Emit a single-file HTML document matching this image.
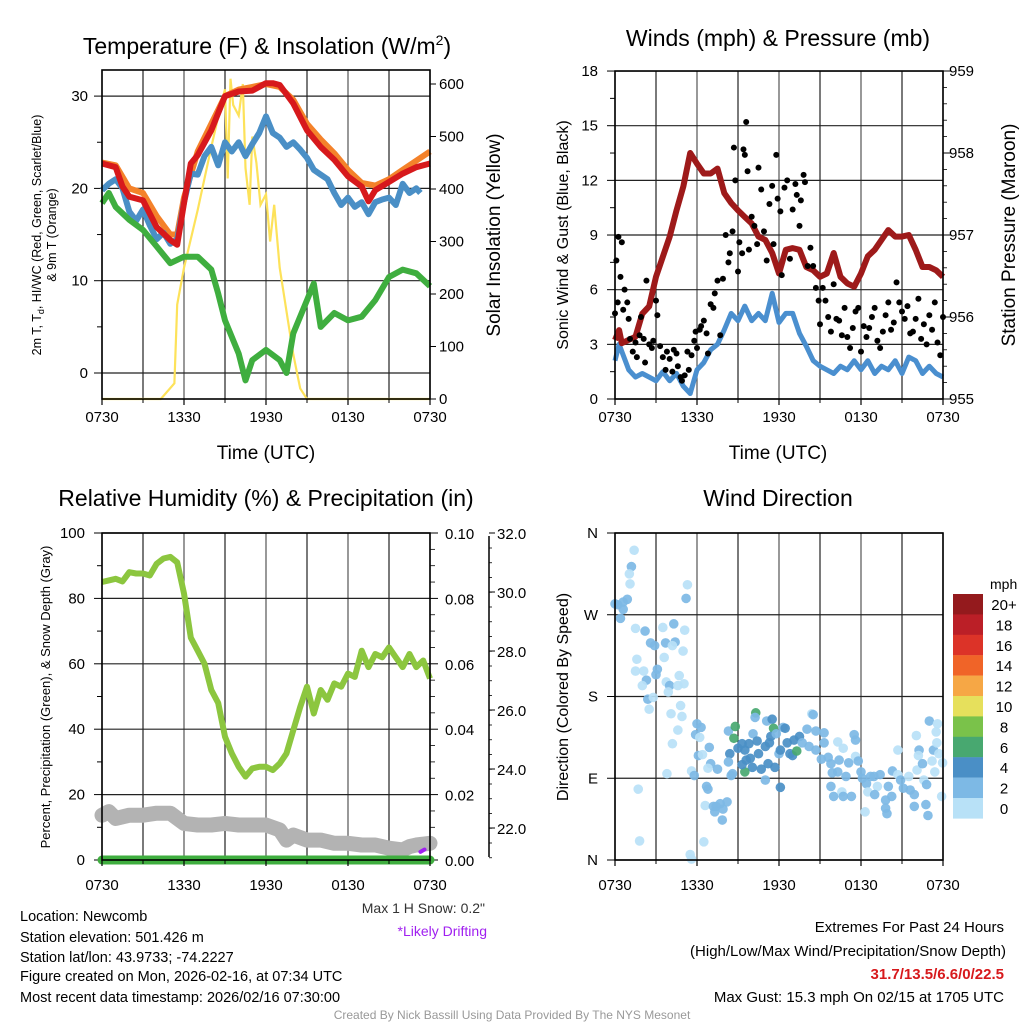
<!DOCTYPE html>
<html><head><meta charset="utf-8">
<style>
html,body{margin:0;padding:0;background:#fff;}
svg{display:block;font-family:"Liberation Sans",Arial,sans-serif;}
</style></head>
<body>
<svg id="c" width="1024" height="1024" viewBox="0 0 1024 1024" xmlns="http://www.w3.org/2000/svg">
<rect width="1024" height="1024" fill="#fff"/>
<text x="267" y="54" font-size="23" text-anchor="middle">Temperature (F) &amp; Insolation (W/m<tspan font-size="14" dy="-9">2</tspan><tspan dy="9">)</tspan></text>
<text x="778" y="46" font-size="23" text-anchor="middle">Winds (mph) &amp; Pressure (mb)</text>
<text x="266" y="506" font-size="23" text-anchor="middle">Relative Humidity (%) &amp; Precipitation (in)</text>
<text x="778" y="506" font-size="23" text-anchor="middle">Wind Direction</text>
<text transform="translate(41,235) rotate(-90)" font-size="12.5" text-anchor="middle">2m T, T<tspan font-size="9" dy="3">d</tspan><tspan dy="-3">, HI/WC (Red, Green, Scarlet/Blue)</tspan></text>
<text transform="translate(56,235) rotate(-90)" font-size="12.5" text-anchor="middle">&amp; 9m T (Orange)</text>
<text transform="translate(500,235) rotate(-90)" font-size="19" text-anchor="middle">Solar Insolation (Yellow)</text>
<text x="266" y="459" font-size="19" text-anchor="middle">Time (UTC)</text>
<text transform="translate(568,235) rotate(-90)" font-size="16" text-anchor="middle">Sonic Wind &amp; Gust (Blue, Black)</text>
<text transform="translate(1015,235) rotate(-90)" font-size="19" text-anchor="middle">Station Pressure (Maroon)</text>
<text x="778" y="459" font-size="19" text-anchor="middle">Time (UTC)</text>
<text transform="translate(50,697) rotate(-90)" font-size="13" text-anchor="middle">Percent, Precipitation (Green), &amp; Snow Depth (Gray)</text>
<text transform="translate(568,697) rotate(-90)" font-size="16" text-anchor="middle">Direction (Colored By Speed)</text>
<text x="485" y="913" font-size="14" fill="#333" text-anchor="end">Max 1 H Snow: 0.2"</text>
<text x="487" y="936" font-size="14" fill="#a020f0" text-anchor="end">*Likely Drifting</text>
<g font-size="14.5">
<text x="20" y="921">Location: Newcomb</text>
<text x="20" y="942">Station elevation: 501.426 m</text>
<text x="20" y="962">Station lat/lon: 43.9733; -74.2227</text>
<text x="20" y="981">Figure created on Mon, 2026-02-16, at 07:34 UTC</text>
<text x="20" y="1002">Most recent data timestamp: 2026/02/16 07:30:00</text>
</g>
<g font-size="15" text-anchor="end">
<text x="1004" y="932">Extremes For Past 24 Hours</text>
<text x="1006" y="956">(High/Low/Max Wind/Precipitation/Snow Depth)</text>
<text x="1004" y="979" fill="#d7191c" font-weight="bold">31.7/13.5/6.6/0/22.5</text>
<text x="1004" y="1002">Max Gust: 15.3 mph On 02/15 at 1705 UTC</text>
</g>
<text x="512" y="1019" font-size="12" fill="#999" text-anchor="middle">Created By Nick Bassill Using Data Provided By The NYS Mesonet</text>
<g id="layer"></g>
</svg>
<script>
const xTickLabels = ["0730","1330","1930","0130","0730"];
const tRedHours = [0,1,1.5,2,3,4,5,5.5,6,6.5,7,8,9,10,11,12,12.5,13,14,15,16,17,18,19,19.5,20,21,22,23,24];
const tRedVals  = [22.7,22.3,20.2,19.1,18.7,15.8,14.4,13.9,18.4,22.7,23.6,26.3,30,30.5,30.6,31.4,31.4,31.2,29.2,26.3,24.5,23.1,21.3,20.2,18.6,19.8,20.7,21.6,22.3,22.7];
const tOrangeHours = [0,1,2,3,4,5,5.5,6,7,8,9,10,11,12,13,14,15,16,17,18,19,20,21,22,23,24];
const tOrangeVals  = [22.8,22.5,20,19.5,17,15,15,19,24,27,30,30.7,31,31.3,31,29.6,27,25.3,23.8,22,20.6,20.3,21,22,23,24];
const tBlueHours = [0,0.5,1,1.5,2,2.5,3,3.5,4,4.5,5,5.5,6,6.5,7,7.5,8,8.5,9,9.5,10,10.5,11,11.5,12,12.5,13,13.5,14,14.5,15,15.5,16,16.5,17,17.5,18,18.5,19,19.5,20,20.5,21,21.5,22,22.5,23,23.3];
const tBlueVals  = [19.8,20.5,21,20,17.5,16.5,17.7,16,14.5,15.2,14,14.5,18.5,21.6,21.5,23.5,24.5,22.5,25,24,25,23.5,24.8,26,27.8,26,25.5,24.5,25,24.2,23.3,22,21.5,21,19.5,18.2,19,18,18.5,17.2,18.5,18.8,19,18.2,20.5,19.5,20,19.5];
const tGreenHours = [0,0.5,1,2,3,4,5,6,7,8,8.5,9,10,10.5,11,12,13,13.5,14,15,15.5,16,17,18,19,20,21,22,23,24];
const tGreenVals  = [18.4,19.5,18,16.6,15.5,13.7,11.9,12.6,12.6,11.2,8.6,5.7,2.1,-0.8,1.4,2.5,1.4,0,4.3,7.9,9.7,5,6.5,5.7,6.1,7.9,10.4,11.2,10.8,9.4];
const solarHours = [0,4.3,5.3,5.5,6,7,8,8.7,9,9.2,9.4,9.6,10,10.3,10.5,10.8,11,11.3,11.6,12,12.3,12.6,13,13.3,13.6,14,14.5,15,24];
const solarVals  = [0,0,30,180,250,360,480,560,590,420,610,560,540,600,440,370,500,450,370,390,300,370,250,200,150,85,20,0,0];
const windHours = [0,0.3,1,1.5,2,2.5,3,3.5,4,4.5,5,5.5,6,6.5,7,7.5,8,8.5,9,9.5,10,10.5,11,11.5,12,12.5,13,13.5,14,14.5,15,15.5,16,16.5,17,17.5,18,18.5,19,19.5,20,20.5,21,21.5,22,22.5,23,23.5,24];
const windVals  = [2.1,3.0,1.6,1.2,1.4,1.2,1.0,1.5,1.0,1.4,0.7,0.3,1.6,2.0,2.7,3.0,3.8,4.7,4.3,5.1,4.3,4.7,4.3,5.8,4.2,4.7,4.7,3.6,2.9,2.1,1.8,1.6,1.4,1.8,1.6,2.1,1.6,2.1,1.4,1.8,1.6,2.1,1.4,2.3,2.1,1.4,1.8,1.4,1.2];
const presHours = [0,0.3,0.5,1.5,2,2.5,3,4,4.5,5,5.5,6,6.5,7,7.5,8,8.5,9,9.5,10,10.5,11,11.5,12,12.5,13,13.5,14,14.5,15,15.5,16,16.5,17,17.5,18,18.5,19,19.5,20,20.5,21,21.5,22,22.5,23,23.5,24];
const presVals  = [955.72,955.84,955.68,955.76,956.04,956.13,956.49,956.98,957.30,957.59,958.0,957.87,957.75,957.75,957.81,957.51,957.39,957.30,957.22,957.14,956.98,956.94,956.78,956.53,956.82,956.84,956.82,956.61,956.57,956.49,956.53,956.78,956.49,956.41,956.37,956.53,956.74,956.82,956.94,957.06,956.98,956.98,957.0,956.82,956.61,956.61,956.57,956.49];
const gustHours = [0.0,0.1,0.2,0.25,0.4,0.5,0.6,0.7,0.9,1.0,1.1,1.3,1.5,1.6,1.8,1.9,2.1,2.2,2.3,2.5,2.7,2.8,3.0,3.1,3.3,3.5,3.7,3.8,4.0,4.2,4.3,4.5,4.6,4.8,4.9,5.1,5.3,5.4,5.6,5.8,5.9,6.0,6.2,6.3,6.5,6.7,6.8,7.0,7.2,7.3,7.5,7.7,7.9,8.1,8.3,8.4,8.6,8.7,8.8,9.0,9.1,9.3,9.4,9.5,9.6,9.7,9.8,10.0,10.2,10.4,10.5,10.7,10.9,11.1,11.3,11.5,11.6,11.8,11.9,12.1,12.2,12.4,12.6,12.8,13.0,13.2,13.3,13.5,13.6,13.8,13.9,14.1,14.3,14.5,14.7,14.9,15.0,15.2,15.4,15.6,15.8,16.0,16.2,16.4,16.6,16.8,17.0,17.2,17.4,17.6,17.8,18.0,18.2,18.4,18.6,18.8,19.0,19.2,19.4,19.6,19.8,20.0,20.2,20.4,20.6,20.8,21.0,21.2,21.4,21.6,21.8,22.0,22.2,22.4,22.6,22.8,23.0,23.2,23.4,23.6,23.8,24.0];
const gustVals  = [4.7,7.6,5.3,8.9,6.7,8.6,4.9,6.0,5.3,4.4,3.3,2.6,3.1,2.3,3.5,4.5,3.3,2.0,6.5,3.0,2.8,3.2,5.4,4.6,2.9,2.3,1.6,2.6,2.2,1.5,2.7,2.5,1.8,1.2,1.0,1.3,2.6,1.6,2.4,3.2,3.7,2.8,3.8,4.0,4.3,3.6,2.5,5.2,5.0,5.8,6.5,3.5,6.6,9.0,7.5,8.0,9.2,13.8,12.0,7.0,8.6,8.0,13.7,13.4,15.2,12.5,8.2,10.0,9.5,8.5,12.7,11.5,9.2,7.6,10.7,11.7,8.5,13.4,11.0,10.3,6.8,11.6,12.0,7.7,10.4,11.8,11.2,9.5,10.9,12.3,11.9,7.3,8.3,7.3,6.1,5.4,4.1,6.1,5.4,4.5,3.7,6.3,4.4,4.3,3.5,5.0,3.4,2.8,3.9,4.8,5.0,2.6,4.0,3.4,3.9,4.5,5.0,3.2,2.8,3.7,4.6,5.3,3.8,4.2,6.4,5.3,4.8,4.4,5.1,3.6,3.7,4.4,5.5,3.3,4.1,3.0,4.6,3.8,5.3,3.1,2.4,4.5];
const rhHours = [0,0.5,1,1.5,2,2.5,3,3.5,4,4.5,5,5.5,6,6.5,7,7.5,8,8.5,9,9.5,10,10.5,11,11.5,12,12.5,13,13.5,14,14.5,15,15.5,16,16.5,17,17.5,18,18.5,19,19.5,20,20.5,21,21.5,22,22.5,23,23.5,24];
const rhVals  = [85,85.5,86,85.2,88,87.6,87.6,87,90.6,92.2,92.7,91,81.5,68,64,60,52,48,37.7,32.6,28.5,25.5,28,28.5,28.5,27.5,29.5,32.6,39.7,46.8,53,44.8,52,49,54,53,57,56,64,59,63,62,65,62,59,63,59,61,55.5];
const snowHours = [0,0.5,1,2,3,4,5,6,7,8,9,10,11,12,13,13.5,14,15,16,17,18,19,20,21,22,22.5,23,24];
const snowVals  = [13.7,14.8,12.7,13.7,13.7,14.3,14.3,11.2,10.7,10.7,11.2,10.7,10.7,10.7,9.2,6.1,7.6,6.1,6.1,5.1,5.1,4.6,4.6,3.6,3.1,4.1,4.6,5.1];
const precipHours = [0,24];
const precipVals = [0,0];
const dirHours = [1.4,1.2,1.05,1.1,0,0.2,0.6,0.9,0.6,0.4,5.3,5.2,1.5,2.2,3.5,4.3,5.1,2.6,2.9,3.7,4.4,4.2,4.98,3.6,1.6,1.5,2.1,3.1,3.0,2.3,2.0,3.75,4.0,3.9,4.7,5.05,4.6,2.4,2.8,2.5,4.1,4.9,4.8,4.6,4.2,3.8,1.7,1.8,5.5,5.6,6.0,6.3,5.9,6.2,6.1,6.4,6.9,5.6,5.8,7.0,6.8,7.5,6.7,6.8,6.6,7.2,7.4,7.7,8.2,7.9,7.3,7.85,6.5,8.3,8.8,8.7,8.4,8.3,8.6,8.5,9.0,9.3,9.5,9.8,10.1,10.3,10.25,10.4,10.5,9.6,9.9,10.05,9.5,9.3,10.7,11.0,11.2,11.0,11.1,11.5,11.6,11.4,11.8,11.3,11.7,12.0,12.1,12.1,12.3,12.45,12.6,12.8,12.99,13.1,13.3,13.5,13.7,14.05,14.2,14.4,14.5,14.7,14.7,15.3,15.3,15.1,15.6,15.8,15.9,16.3,16.3,16.7,16.4,16.9,17.1,17.5,17.6,17.6,17.8,18.0,18.1,15.8,16.0,16.6,16.7,17.3,18.4,18.7,18.95,19.2,19.4,18.5,19.0,18.3,19.8,19.8,19.9,20.0,20.25,20.3,20.7,20.7,20.9,21.1,21.5,21.6,21.9,21.9,22.05,22.1,22.25,22.2,22.5,22.6,22.8,22.75,22.9,23.0,23.2,23.3,23.4,23.5,23.6,23.55,23.7,23.97,23.9];
const dirDeg = [341,323,315,304,282,281,284,287,276,266,303,288,255,252,256,260,253,239,236,239,240,236,230,223,221,208,208,210,204,198,192,196,192,185,203,194,192,177,179,166,161,158,170,143,128,95,78,21,6,1,150,146,138,135,115,116,124,98,93,106,101,100,81,78,60,59,59,62,64,56,53,44,20,142,147,134,117,108,95,93,123,128,121,128,139,162,157,131,117,110,112,102,97,105,100,125,106,88,153,155,145,136,139,129,102,117,121,80,146,145,129,117,115,132,120,136,129,144,125,161,160,142,121,140,129,111,113,106,96,97,130,123,110,92,107,138,132,114,109,97,90,81,70,75,70,70,84,92,92,81,94,75,72,53,66,57,51,81,70,98,94,121,88,79,92,77,59,72,137,99,121,115,106,88,83,61,49,153,109,121,97,141,150,129,117,107,70];
const dirSpeed = [1,3,1,1,3,3,3,3,3,3,1,3,1,3,1,3,1,3,3,3,3,1,1,1,1,1,1,3,3,3,1,1,3,1,1,1,1,3,1,1,1,1,1,1,1,1,1,1,1,1,3,3,3,1,3,1,3,1,3,3,1,3,3,3,1,3,3,3,3,3,3,3,1,3,7,7,5,3,3,3,5,5,5,5,3,7,3,5,5,5,5,5,7,5,5,5,5,3,3,5,7,5,3,5,5,3,5,5,3,5,5,5,5,5,7,5,3,3,3,1,3,3,3,3,3,3,3,3,3,3,1,1,3,3,3,3,3,1,3,3,3,3,3,1,3,3,3,3,3,1,3,1,3,1,3,3,3,3,3,3,1,1,3,3,1,3,3,3,1,1,3,1,3,1,3,3,3,3,1,3,1,1,1,1,1,1,1,1];
const cbLabels = ["20+","18","16","14","12","10","8","6","4","2","0"];
const cbColors = ["#941a1d","#bb1f27","#dc3328","#f06428","#f6a745","#e6e05c","#7ac24a","#48a870","#4a8fc6","#7db9e5","#b8e1f7"];
const t1Ticks = [0,10,20,30];
const s1Ticks = [0,100,200,300,400,500,600];
const wTicks = [0,3,6,9,12,15,18];
const pTicks = [955,956,957,958,959];
const rhTicks = [0,20,40,60,80,100];
const prTicks = ["0.00","0.02","0.04","0.06","0.08","0.10"];
const sdTicks = ["22.0","24.0","26.0","28.0","30.0","32.0"];
const dirTicks = ["N","E","S","W","N"];

const NS="http://www.w3.org/2000/svg";
const layer=document.getElementById('layer');
function mk(tag,attrs,parent){const e=document.createElementNS(NS,tag);for(const k in attrs)e.setAttribute(k,attrs[k]);(parent||layer).appendChild(e);return e;}
function grp(name){const g=mk('g',{});return g;}
function pathFrom(hs,vs,xf,yf){return hs.map((h,i)=>(i?'L':'M')+xf(h).toFixed(1)+','+yf(vs[i]).toFixed(1)).join('');}

const W=328;
function panelFrame(name,x0,y0,y1){
  const g=grp(name+'-grid');
  for(let k=0;k<=8;k++){const x=x0+k*W/8;mk('line',{x1:x,y1:y0,x2:x,y2:y1,stroke:k%2?'#222':'#555','stroke-width':1.2},g);}
  return g;
}
function xAxis(name,x0,yb,ylab){
  const g=grp(name);
  xTickLabels.forEach((t,i)=>{const x=x0+i*W/4;
    mk('line',{x1:x,y1:yb,x2:x,y2:yb+6,stroke:'#000','stroke-width':1.2},g);
    const tx=mk('text',{x:x,y:ylab,'font-size':15,'text-anchor':'middle'},g);tx.textContent=t;});
  for(let k=1;k<8;k+=2){const x=x0+k*W/8;mk('line',{x1:x,y1:yb,x2:x,y2:yb+4,stroke:'#000'},g);}
}

(function(){
  const x0=102,yt=70,yb=399;
  const X=h=>x0+h*W/24, YT=v=>373-v*9.23, YS=v=>399-v*0.525;
  const g=panelFrame('temperature',x0,yt,yb);
  t1Ticks.forEach(v=>mk('line',{x1:x0,y1:YT(v),x2:x0+W,y2:YT(v),stroke:'#222','stroke-width':1.2},g));
  const ax=grp('temperature-axes');
  t1Ticks.forEach(v=>{mk('line',{x1:x0-8,y1:YT(v),x2:x0,y2:YT(v),stroke:'#000'},ax);
    const t=mk('text',{x:x0-14,y:YT(v)+5,'font-size':15,'text-anchor':'end'},ax);t.textContent=v;});
  [5,15,25].forEach(v=>mk('line',{x1:x0-5,y1:YT(v),x2:x0,y2:YT(v),stroke:'#000'},ax));
  s1Ticks.forEach(v=>{mk('line',{x1:x0+W,y1:YS(v),x2:x0+W+6,y2:YS(v),stroke:'#000'},ax);
    const t=mk('text',{x:x0+W+9,y:YS(v)+5,'font-size':15},ax);t.textContent=v;});
  const s=mk('path',{d:pathFrom(solarHours,solarVals,X,YS),fill:'none',stroke:'#fde25a','stroke-width':2.2});
  
  const o=mk('path',{d:pathFrom(tOrangeHours,tOrangeVals,X,YT),fill:'none',stroke:'#f4822a','stroke-width':6,'stroke-linejoin':'round'});
  
  const b=mk('path',{d:pathFrom(tBlueHours,tBlueVals,X,YT),fill:'none',stroke:'#4a8fc6','stroke-width':6,'stroke-linejoin':'round'});
  
  const r=mk('path',{d:pathFrom(tRedHours,tRedVals,X,YT),fill:'none',stroke:'#d7191c','stroke-width':6,'stroke-linejoin':'round'});
  
  const gr=mk('path',{d:pathFrom(tGreenHours,tGreenVals,X,YT),fill:'none',stroke:'#3fae3f','stroke-width':6,'stroke-linejoin':'round'});
  
  mk('rect',{x:x0,y:yt,width:W,height:yb-yt,fill:'none',stroke:'#000','stroke-width':1.6});
  xAxis('temperature-x-axis',x0,yb,422);
})();

(function(){
  const x0=615,yt=71,yb=399;
  const X=h=>x0+h*W/24, YW=v=>399-v*18.22, YP=p=>399-(p-955)*82;
  const g=panelFrame('winds',x0,yt,yb);
  wTicks.forEach(v=>mk('line',{x1:x0,y1:YW(v),x2:x0+W,y2:YW(v),stroke:'#222','stroke-width':1.2},g));
  const ax=grp('winds-axes');
  wTicks.forEach(v=>{mk('line',{x1:x0-8,y1:YW(v),x2:x0,y2:YW(v),stroke:'#000'},ax);
    const t=mk('text',{x:x0-17,y:YW(v)+5,'font-size':15,'text-anchor':'end'},ax);t.textContent=v;});
  wTicks.slice(0,-1).forEach(v=>mk('line',{x1:x0-5,y1:YW(v+1.5),x2:x0,y2:YW(v+1.5),stroke:'#000'},ax));
  pTicks.forEach(v=>{mk('line',{x1:x0+W,y1:YP(v),x2:x0+W+8,y2:YP(v),stroke:'#000'},ax);
    const t=mk('text',{x:x0+W+6,y:YP(v)+5,'font-size':15},ax);t.textContent=v;});
  for(let p=955.2;p<959;p+=0.2){mk('line',{x1:x0+W,y1:YP(p),x2:x0+W+4,y2:YP(p),stroke:'#000','stroke-width':0.8},ax);}
  const bl=mk('path',{d:pathFrom(windHours,windVals,X,YW),fill:'none',stroke:'#4a8fcf','stroke-width':5,'stroke-linejoin':'round'});
  
  const pr=mk('path',{d:pathFrom(presHours,presVals,X,YP),fill:'none',stroke:'#9e1a1a','stroke-width':6,'stroke-linejoin':'round'});
  
  const dg=grp('gust-points');
  gustHours.forEach((h,i)=>{const c=mk('circle',{cx:X(h),cy:YW(gustVals[i]),r:3,fill:'#000'},dg);
    
    });
  mk('rect',{x:x0,y:yt,width:W,height:yb-yt,fill:'none',stroke:'#000','stroke-width':1.6});
  xAxis('winds-x-axis',x0,yb,422);
})();

(function(){
  const x0=102,yt=533,yb=860;
  const X=h=>x0+h*W/24, YR=v=>860-v*3.27;
  const g=panelFrame('humidity',x0,yt,yb);
  rhTicks.forEach(v=>mk('line',{x1:x0,y1:YR(v),x2:x0+W,y2:YR(v),stroke:'#222','stroke-width':1.2},g));
  const ax=grp('humidity-axes');
  rhTicks.forEach((v,i)=>{mk('line',{x1:x0-8,y1:YR(v),x2:x0,y2:YR(v),stroke:'#000'},ax);
    const t=mk('text',{x:x0-17,y:YR(v)+5,'font-size':15,'text-anchor':'end'},ax);t.textContent=v;
    mk('line',{x1:x0+W,y1:YR(v),x2:x0+W+8,y2:YR(v),stroke:'#000'},ax);
    const t2=mk('text',{x:x0+W+15,y:YR(v)+6,'font-size':15},ax);t2.textContent=prTicks[i];});
  for(let v=10;v<100;v+=20){mk('line',{x1:x0-5,y1:YR(v),x2:x0,y2:YR(v),stroke:'#000'},ax);}
  for(let v=5;v<100;v+=5){if(v%20)mk('line',{x1:x0+W,y1:YR(v),x2:x0+W+5,y2:YR(v),stroke:'#000','stroke-width':0.8},ax);}
  const ax2x=489;
  mk('line',{x1:ax2x,y1:yt+3,x2:ax2x,y2:yb-3,stroke:'#000','stroke-width':1.5},ax);
  sdTicks.forEach((s,i)=>{const y=828-i*59;mk('line',{x1:ax2x,y1:y,x2:ax2x+6,y2:y,stroke:'#000'},ax);
    const t=mk('text',{x:ax2x+8,y:y+6,'font-size':15},ax);t.textContent=s;});
  for(let y=533+15;y<858;y+=14.75){mk('line',{x1:ax2x,y1:y,x2:ax2x+3,y2:y,stroke:'#000','stroke-width':0.8},ax);}
  const sn=mk('path',{d:pathFrom(snowHours,snowVals,X,YR),fill:'none',stroke:'#b3b3b3','stroke-width':15,'stroke-linejoin':'round','stroke-linecap':'round'});
  
  const rh=mk('path',{d:pathFrom(rhHours,rhVals,X,YR),fill:'none',stroke:'#8cc63f','stroke-width':6,'stroke-linejoin':'round'});
  
  const pc=mk('path',{d:pathFrom(precipHours,precipVals,X,YR),fill:'none',stroke:'#3fae3f','stroke-width':9,'stroke-linecap':'round'});
  
  const pu=mk('path',{d:'M'+X(23.3)+','+(YR(2.5))+'L'+X(23.6)+','+YR(3.2),stroke:'#a020f0','stroke-width':4,'stroke-linecap':'round'});
  
  mk('rect',{x:x0,y:yt,width:W,height:yb-yt,fill:'none',stroke:'#000','stroke-width':1.6});
  xAxis('humidity-x-axis',x0,yb,890);
})();

(function(){
  const x0=615,yt=533,yb=860;
  const X=h=>x0+h*W/24, YD=d=>860-d*327/360;
  const g=panelFrame('direction',x0,yt,yb);
  const ax=grp('direction-axes');
  dirTicks.forEach((t,i)=>{const y=YD(i*90);
    mk('line',{x1:x0,y1:y,x2:x0+W,y2:y,stroke:'#222','stroke-width':1.2},g);
    mk('line',{x1:x0-8,y1:y,x2:x0,y2:y,stroke:'#000'},ax);
    const tx=mk('text',{x:x0-17,y:y+5,'font-size':15,'text-anchor':'end'},ax);tx.textContent=t;});
  function col(s){const idx=10-Math.min(10,Math.floor(s/2));return cbColors[idx];}
  const dg=grp('direction-points');
  dirHours.forEach((h,i)=>{const c=mk('circle',{cx:X(h),cy:YD(dirDeg[i]),r:4.8,fill:col(dirSpeed[i]),'fill-opacity':0.92},dg);
    
    });
  mk('rect',{x:x0,y:yt,width:W,height:yb-yt,fill:'none',stroke:'#000','stroke-width':1.6});
  xAxis('direction-x-axis',x0,yb,890);
  const cb=grp('speed-colorbar');
  const t=mk('text',{x:990,y:589,'font-size':14},cb);t.textContent='mph';
  cbColors.forEach((c,i)=>{const y=594+i*20.4;
    const r=mk('rect',{x:953,y:y,width:30,height:20.6,fill:c},cb);
    
    
    const l=mk('text',{x:1004,y:y+16,'font-size':15,'text-anchor':'middle'},cb);l.textContent=cbLabels[i];});
})();
</script>
</body></html>
